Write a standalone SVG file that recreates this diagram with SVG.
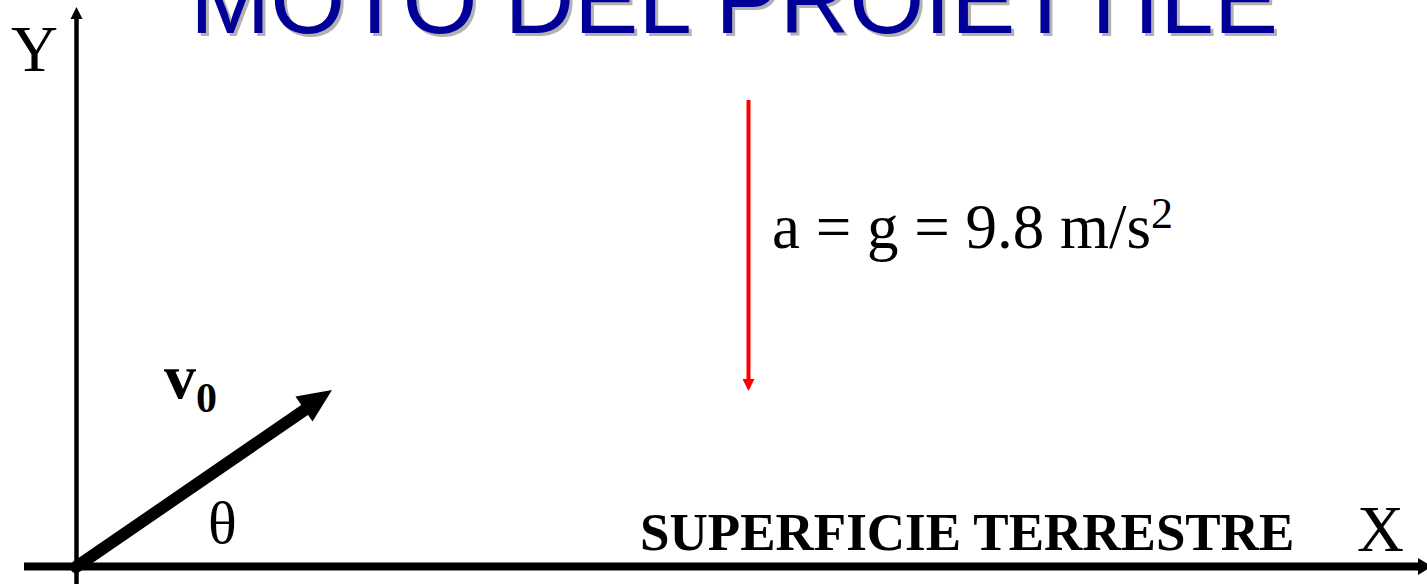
<svg xmlns="http://www.w3.org/2000/svg" width="1427" height="584" viewBox="0 0 1427 584">
<style>
.title{font-family:"Liberation Sans",Arial,sans-serif;font-size:96px}
.serif{font-family:"Liberation Serif","Times New Roman",serif;fill:#000}
.ax{stroke:#000;fill:none}
</style>
<rect width="1427" height="584" fill="#fff"/>
<g id="title">
<text class="title" x="193" y="36" fill="#b2b2b2" textLength="1088" lengthAdjust="spacingAndGlyphs">MOTO DEL PROIETTILE</text>
<text class="title" x="190" y="33" fill="#000099" textLength="1088" lengthAdjust="spacingAndGlyphs">MOTO DEL PROIETTILE</text>
</g>
<g id="connectors">
<line class="ax" x1="76.5" y1="584" x2="76.5" y2="17" stroke-width="4.5"/>
<polygon points="76.5,7 70.5,19 82.5,19" fill="#000"/>
<line class="ax" x1="24" y1="566.5" x2="1418" y2="566.5" stroke-width="8"/>
<polygon points="1432,566.5 1418,558 1418,575" fill="#000"/>
<line x1="76" y1="567" x2="306" y2="409" stroke="#000" stroke-width="12" stroke-linecap="round"/>
<polygon points="332,390 312.5,421.4 295.5,396.6" fill="#000"/>
<line x1="748.5" y1="100" x2="748.5" y2="380" stroke="#ff0000" stroke-width="4"/>
<polygon points="748.5,391 742.5,379 754.5,379" fill="#ff0000"/>
</g>
<g id="labels">
<text class="serif" x="11" y="71" font-size="65">Y</text>
<text class="serif" x="1357" y="551" font-size="65">X</text>
<text class="serif" x="164" y="398" font-size="64" font-weight="bold">v<tspan font-size="42" dy="14">0</tspan></text>
<text class="serif" x="208" y="543" font-size="60">θ</text>
<text class="serif" x="772" y="248" font-size="63">a = g = 9.8 m/s<tspan font-size="44" dy="-20">2</tspan></text>
<text class="serif" x="640" y="550" font-size="53" font-weight="bold">SUPERFICIE TERRESTRE</text>
</g>
</svg>
